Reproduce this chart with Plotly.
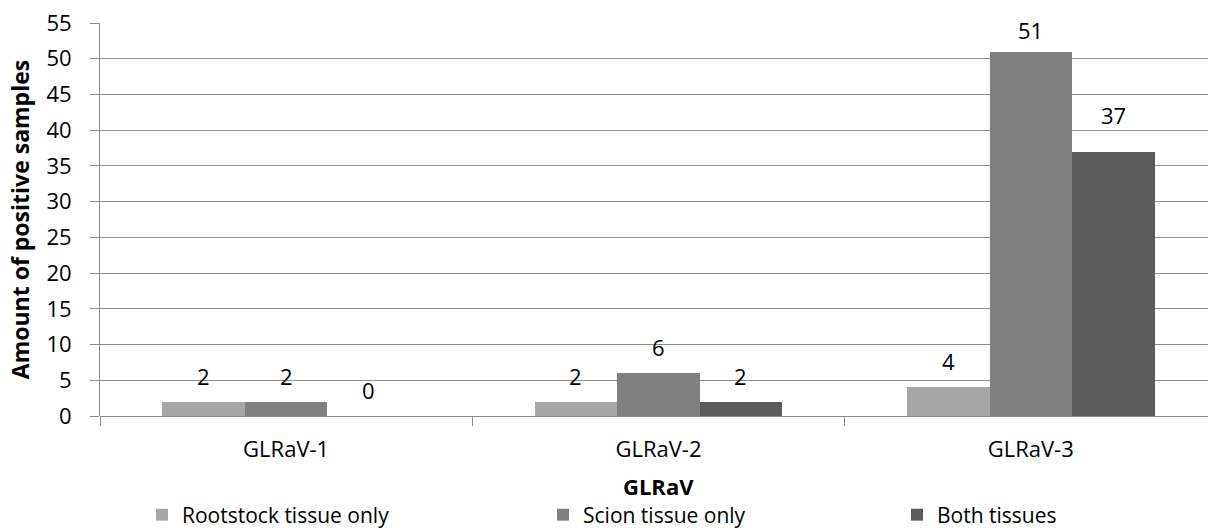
import plotly.graph_objects as go

# Data
categories = ["GLRaV-1", "GLRaV-2", "GLRaV-3"]
series_names = ["Rootstock tissue only", "Scion tissue only", "Both tissues"]
rootstock = [2, 2, 4]
scion = [2, 6, 51]
both = [0, 2, 37]
y_ticks = list(range(0, 56, 5))

series = [rootstock, scion, both]
colors = ["#a6a6a6", "#808080", "#5b5b5b"]

# Layout constants
W, H = 1208, 530
M_L, M_R, M_T, M_B = 100, 0, 23, 114
CAT_PX = 372.3                      # width of one category slot in pixels
BAR_W = 0.2216                      # bar width in category units
FONT = "Open Sans"
FS = 22
GRID = "#8c8c8c"
LABEL_SHIFT = 26                    # default label offset above bar top (px)
LABEL_NUDGE = {(1, 2): 22, (2, 2): 37}
LEGEND_TEXT_X = [182, 583, 937]     # pixel x where each legend text starts
LEGEND_Y_PX = 515
XTITLE_Y_PX = 486

plot_w = W - M_L - M_R
plot_h = H - M_T - M_B
x_end = -0.5 + plot_w / CAT_PX

fig = go.Figure()
legend_ids = ["legend", "legend2", "legend3"]
for j, (name, vals, col) in enumerate(zip(series_names, series, colors)):
    xs = [i + (j - 1) * BAR_W for i in range(len(categories))]
    fig.add_trace(go.Bar(
        x=xs, y=vals, width=BAR_W, name=name,
        marker=dict(color=col, line=dict(width=0)),
        legend=legend_ids[j], hoverinfo="skip",
    ))
    for i, v in enumerate(vals):
        fig.add_annotation(
            x=xs[i], y=v, text=str(v), showarrow=False,
            xanchor="center", yanchor="middle",
            yshift=LABEL_NUDGE.get((j, i), LABEL_SHIFT),
            font=dict(family=FONT, size=FS, color="#000000"),
        )

# x-axis title, centred under the middle category
fig.add_annotation(
    x=(len(categories) - 1) / 2, xref="x",
    y=(H - M_B - XTITLE_Y_PX) / plot_h, yref="paper", yanchor="middle",
    text="<b>GLRaV</b>", showarrow=False,
    font=dict(family=FONT, size=FS, color="#000000"),
)

layout_legends = {}
for j, lid in enumerate(legend_ids):
    layout_legends[lid] = dict(
        x=(LEGEND_TEXT_X[j] - 40 - M_L) / plot_w, xanchor="left",
        yref="container", y=1 - LEGEND_Y_PX / H, yanchor="middle",
        orientation="h",
        font=dict(family=FONT, size=21, color="#000000"),
        bgcolor="rgba(0,0,0,0)", borderwidth=0,
    )

fig.update_layout(
    width=W, height=H,
    margin=dict(l=M_L, r=M_R, t=M_T, b=M_B, pad=0, autoexpand=False),
    paper_bgcolor="white", plot_bgcolor="white",
    barmode="overlay", bargap=0,
    font=dict(family=FONT, size=FS, color="#000000"),
    showlegend=True,
    **layout_legends,
)

fig.update_xaxes(
    range=[-0.5, x_end], automargin=False,
    tickmode="array", tickvals=list(range(len(categories))), ticktext=categories,
    ticks="", showgrid=False, zeroline=False,
    showline=False,
    ticklabelstandoff=18,
    tickfont=dict(family=FONT, size=FS, color="#000000"),
    minor=dict(tickmode="array", tickvals=[-0.5, 0.5, 1.5], ticks="outside",
               ticklen=9, tickcolor=GRID, tickwidth=1, showgrid=False),
    fixedrange=True,
)

fig.update_yaxes(
    range=[0, 55], automargin=False,
    tickmode="array", tickvals=y_ticks,
    ticks="outside", ticklen=9, tickcolor=GRID, tickwidth=1,
    showgrid=True, gridcolor=GRID, gridwidth=1,
    zeroline=True, zerolinecolor=GRID, zerolinewidth=1,
    showline=True, linecolor=GRID, linewidth=1,
    ticklabelstandoff=14,
    tickfont=dict(family=FONT, size=FS, color="#000000"),
    title=dict(text="<b>Amount of positive samples</b>",
               font=dict(family=FONT, size=23, color="#000000"), standoff=10),
    fixedrange=True,
)

fig.write_html("out.html", config={"displayModeBar": False})
